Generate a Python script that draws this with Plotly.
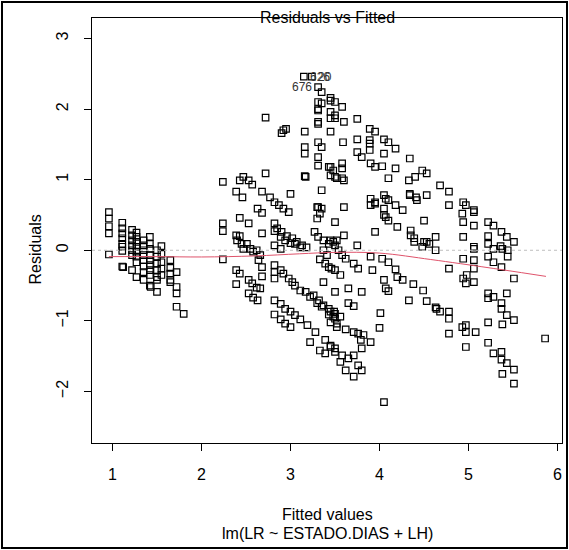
import plotly.graph_objects as go

# ---- data (fitted values, residuals) ----
fitted_left = [0.96,0.96,0.96,0.96,0.96,
 1.11,1.11,1.11,1.11,1.11,1.11,1.11,1.11,1.12,
 1.22,1.22,1.22,1.22,1.22,1.22,1.22,
 1.27,1.27,1.27,1.27,1.27,1.27,1.27,1.27,
 1.35,1.35,1.35,1.35,1.35,1.35,1.35,1.35,
 1.42,1.42,1.42,1.42,1.42,1.42,1.42,1.42,1.42,1.43,
 1.5,1.5,1.5,1.5,1.5,1.5,1.5,
 1.55,1.55,1.55,1.55,1.55,
 1.65,1.65,1.65,1.65,1.65,
 1.72,1.72,1.72,1.72,
 1.8]
resid_left = [0.54,0.45,0.34,0.24,-0.06,
 0.39,0.31,0.24,0.17,0.09,0.05,-0.01,-0.23,-0.24,
 0.29,0.21,0.14,0.07,0.0,-0.07,-0.28,
 0.25,0.19,0.12,0.05,-0.02,-0.09,-0.17,-0.38,
 0.14,0.07,0.0,-0.07,-0.14,-0.23,-0.31,-0.42,
 0.19,0.09,0.02,-0.07,-0.14,-0.21,-0.28,-0.35,-0.5,-0.52,
 0.0,-0.09,-0.19,-0.28,-0.38,-0.42,-0.59,
 0.06,-0.05,-0.17,-0.26,-0.35,
 -0.14,-0.25,-0.33,-0.42,-0.45,
 -0.31,-0.52,-0.61,-0.8,
 -0.9]

fitted_mid = [2.24,2.24,2.24,2.24,
 2.39,2.39,2.4,2.39,2.39,
 2.43,2.47,2.53,2.57,2.46,2.43,2.53,
 2.43,2.45,2.47,2.43,
 2.53,2.57,2.62,2.66,2.53,2.58,2.63,
 2.51,2.55,2.58,2.62,2.66,2.64,2.68,2.68,
 2.68,2.63,2.68,2.72,2.68,
 2.77,2.82,2.87,2.92,2.98,3.0,
 2.82,2.85,2.9,2.96,3.02,3.07,3.13,3.18,
 2.82,2.89,2.94,3.0,3.05,3.11,
 2.82,2.89,
 2.82,2.82,2.82,2.89,2.92,2.98,3.02,3.05,3.11,3.17,3.22,3.26,3.32,3.37,3.43,3.49,
 2.82,2.89,2.94,3.0,3.05,3.11,3.19,
 2.82,2.89,2.94,3.0,
 3.22,3.33,3.39,3.28,3.39,3.45,3.5,
 3.3,3.35,3.43,3.48,3.52,
 3.27,3.3,3.33,3.35,3.3,3.35,3.17,
 3.43,3.48,3.52,
 3.31,3.37,3.43,3.48,3.52,
 3.37,3.41,
 3.33,3.39,3.43,3.46,3.5,
 3.37,3.5,
 2.72,2.9,2.95]
resid_mid = [0.97,0.38,0.27,-0.13,
 0.83,0.21,0.14,-0.28,-0.48,
 0.99,1.04,0.99,0.93,0.75,0.46,0.38,
 0.2,0.09,0.02,-0.33,
 -0.42,-0.47,-0.53,-0.54,-0.61,-0.67,-0.71,
 0.09,0.02,-0.02,0.0,-0.07,-0.14,-0.24,-0.37,
 0.83,0.59,0.53,1.09,0.24,
 0.75,0.68,0.64,0.59,0.54,0.8,
 0.38,0.31,0.26,0.2,0.17,0.12,0.07,0.04,
 0.27,0.19,0.14,0.1,0.09,0.04,
 0.07,0.02,
 -0.21,-0.31,-0.4,-0.28,-0.33,-0.4,-0.45,-0.5,-0.57,-0.59,-0.66,-0.64,-0.71,-0.78,-0.83,-0.87,
 -0.71,-0.76,-0.83,-0.87,-0.92,-0.98,-1.06,
 -0.91,-0.98,-1.04,-1.09,
 -1.3,-1.42,-1.46,-1.16,-1.27,-1.35,-1.39,
 -0.75,-0.8,-0.91,-0.94,-1.04,
 0.26,0.45,0.52,0.59,0.61,0.85,1.04,
 1.18,1.13,1.02,
 0.19,0.14,0.09,0.12,0.14,
 0.0,-0.07,
 -0.13,-0.19,-0.24,-0.26,-0.28,
 -0.45,-0.59,
 1.88,1.66,1.72]

fitted_top = [3.15,3.24,3.31,3.35,3.31,3.35,3.45,3.45,3.31,3.31,3.5,3.58,3.45,3.5,3.5,3.45,3.6,3.31,3.31,
 3.75,3.89,3.95,3.16,2.92,3.45,3.75,3.89,3.89,4.05,4.1,4.18,3.31,3.35,3.16,3.16,3.59,3.75,3.8,3.89,
 4.05,4.18,4.34,3.31,3.31,3.45,3.45,3.58,3.58,3.58,3.9,3.95,4.03,4.1,3.16,3.5,3.9,3.95,4.05,4.18,
 4.34,4.42,4.53,4.48,4.53,4.4,4.33,3.31,3.6]
resid_top = [2.46,2.46,2.31,2.24,2.1,2.08,2.16,2.12,2.0,1.98,2.1,2.03,1.96,1.91,1.87,1.87,1.82,1.82,1.79,
 1.86,1.72,1.68,1.68,1.7,1.68,1.57,1.56,1.51,1.57,1.53,1.44,1.53,1.46,1.46,1.37,1.53,1.39,1.32,1.42,
 1.37,1.16,1.3,1.32,1.2,1.18,1.06,1.23,1.16,1.02,1.23,1.18,1.19,1.02,1.05,1.04,0.73,0.66,0.78,0.64,
 0.78,0.71,0.78,1.13,1.09,1.04,0.99,0.61,0.61]

fitted_r1 = [3.6,3.9,3.95,4.07,4.1,4.05,4.05,4.07,4.1,4.26,4.2,3.95,3.75,3.6,3.5,3.45,3.5,3.54,3.58,3.62,
 3.9,4.03,4.1,4.18,4.2,4.26,3.71,3.76,3.56,3.92,4.05,4.07,4.1,3.65,3.8,3.65,3.71,4.01,4.0,
 3.45,3.5,3.5,3.56,3.45,3.52,3.62,3.71,3.76,3.82,3.9,3.79,3.8,
 3.45,3.5,3.58,3.65,3.76,3.8,3.71,3.56,3.71,3.62,4.05,
 4.33,4.38,4.49,4.53,4.63,4.68,4.78,4.78,4.78,4.64,
 4.35,4.35,4.39,4.39,4.41,4.5,4.5,4.53,4.48,4.56,4.63,4.63,4.68,4.78,4.78,4.78,4.34]
resid_r1 = [0.99,0.64,0.68,0.73,0.71,0.59,0.5,0.47,0.42,0.57,0.33,0.26,0.07,0.21,0.4,0.14,0.07,0.0,-0.07,-0.12,
 -0.09,-0.12,-0.17,-0.27,-0.38,-0.42,-0.19,-0.26,-0.35,-0.28,-0.42,-0.54,-0.58,-0.54,-0.59,-0.75,-0.79,-0.89,-1.1,
 -0.87,-0.9,-0.97,-0.94,-1.02,-1.09,-1.12,-1.16,-1.18,-1.2,-1.3,-1.27,-1.39,
 -1.37,-1.44,-1.49,-1.53,-1.63,-1.7,-1.79,-1.58,-1.49,-1.7,-2.15,
 -0.71,-0.48,-0.57,-0.72,-0.81,-0.87,-0.87,-0.97,-1.18,-0.83,
 0.28,0.21,0.17,0.12,0.75,0.42,0.12,0.12,0.05,0.09,0.19,0.0,0.92,0.83,0.64,-0.26,0.8]

fitted_r2 = [4.94,4.97,5.06,5.06,4.93,4.94,5.06,4.94,5.06,5.06,4.94,5.06,5.06,4.94,4.98,4.97,5.06,
 4.93,4.97,4.97,5.08,4.97,
 5.22,5.28,5.37,5.43,5.51,5.22,5.22,5.28,5.36,5.38,5.44,5.44,5.22,5.28,5.37,5.51,
 5.22,5.22,5.28,5.37,5.37,5.43,5.51,5.43,5.22,5.38,
 5.22,5.28,5.37,5.37,5.43,5.38,5.51,5.51,5.86]
resid_r2 = [0.68,0.64,0.57,0.54,0.52,0.4,0.35,0.19,0.05,0.02,-0.12,-0.14,-0.26,-0.4,-0.35,-0.47,-0.45,
 -1.09,-1.06,-1.16,-1.16,-1.37,
 0.4,0.35,0.26,0.19,0.12,0.2,0.09,0.02,0.06,0.02,0.0,-0.09,-0.09,-0.17,-0.24,-0.4,
 -0.61,-0.68,-0.66,-0.75,-0.83,-0.92,-0.99,-0.61,-1.02,-1.05,
 -1.31,-1.46,-1.44,-1.55,-1.6,-1.75,-1.69,-1.89,-1.25]

# smoother (red line)
smooth_x = [0.96,1.5,2.0,2.6,3.1,3.5,4.0,4.57,4.91,5.4,5.87]
smooth_y = [-0.09,-0.09,-0.095,-0.08,-0.05,-0.03,-0.04,-0.13,-0.19,-0.28,-0.37]

# labelled observations
lab_ids = ["626", "20", "676"]
lab_x = [3.15, 3.24, 3.31]
lab_y = [2.46, 2.46, 2.31]
lab_side = ["right", "right", "left"]

x_ticks = [1, 2, 3, 4, 5, 6]
y_ticks = [-2, -1, 0, 1, 2, 3]

fitted = fitted_left + fitted_mid + fitted_top + fitted_r1 + fitted_r2
resid = resid_left + resid_mid + resid_top + resid_r1 + resid_r2

FONT = "Liberation Sans, Arial, sans-serif"

fig = go.Figure()
fig.add_trace(go.Scatter(x=fitted, y=resid, mode="markers",
                         marker=dict(symbol="square-open", size=6.5, color="black",
                                     line=dict(width=1.2, color="black")),
                         hoverinfo="skip", showlegend=False))
fig.add_trace(go.Scatter(x=smooth_x, y=smooth_y, mode="lines", line_shape="spline",
                         line=dict(color="#DF536B", width=1), hoverinfo="skip", showlegend=False))

L, R, T, B = 92, 562, 18, 443
W, H = 569, 550
def px_x(px):
    return (px - L) / (R - L)
def px_y(py):
    return (B - py) / (B - T)

for t, xv, yv, side in zip(lab_ids, lab_x, lab_y, lab_side):
    fig.add_annotation(x=xv, y=yv, text=t, showarrow=False,
                       xanchor="left" if side == "right" else "right",
                       xshift=4 if side == "right" else -4,
                       font=dict(family=FONT, size=12, color="#333"))

fig.add_annotation(x=0.5, y=px_y(7), xref="paper", yref="paper", text="Residuals vs Fitted",
                   showarrow=False, font=dict(family=FONT, size=16, color="black"))
fig.add_annotation(x=0.5, y=px_y(525), xref="paper", yref="paper", text="Fitted values",
                   showarrow=False, font=dict(family=FONT, size=16, color="black"))
fig.add_annotation(x=0.5, y=px_y(544), xref="paper", yref="paper", text="lm(LR ~ ESTADO.DIAS + LH)",
                   showarrow=False, font=dict(family=FONT, size=16, color="black"))
fig.add_annotation(x=px_x(24), y=px_y(250), xref="paper", yref="paper", text="Residuals", textangle=-90,
                   showarrow=False, font=dict(family=FONT, size=16, color="black"))

fig.add_shape(type="line", xref="paper", yref="y", x0=0, x1=1, y0=0, y1=0,
              line=dict(color="#BEBEBE", width=1, dash="dot"))
fig.add_shape(type="rect", xref="paper", yref="paper", x0=px_x(2), x1=px_x(567), y0=px_y(2), y1=px_y(548),
              line=dict(color="black", width=2))

fig.update_xaxes(range=[0.77, 6.05], tickvals=x_ticks, ticks="outside", ticklen=7, tickcolor="black",
                 showline=True, mirror=True, linecolor="black", linewidth=1, showgrid=False,
                 zeroline=False, automargin=False, ticklabelstandoff=10,
                 tickfont=dict(family=FONT, size=16, color="black"))
fig.update_yaxes(range=[-2.73, 3.29], tickvals=y_ticks, ticks="outside", ticklen=7, tickcolor="black",
                 showline=True, mirror=True, linecolor="black", linewidth=1, showgrid=False,
                 zeroline=False, automargin=False, tickangle=-90, ticklabelstandoff=10,
                 tickfont=dict(family=FONT, size=16, color="black"))
fig.update_layout(template="none", width=W, height=H,
                  margin=dict(l=L, r=W - R, t=T, b=H - B, autoexpand=False),
                  paper_bgcolor="white", plot_bgcolor="white", showlegend=False)
fig.write_html("out.html", config={"displayModeBar": False},
               post_script="document.body.style.margin='0px';document.body.style.overflow='hidden';")
